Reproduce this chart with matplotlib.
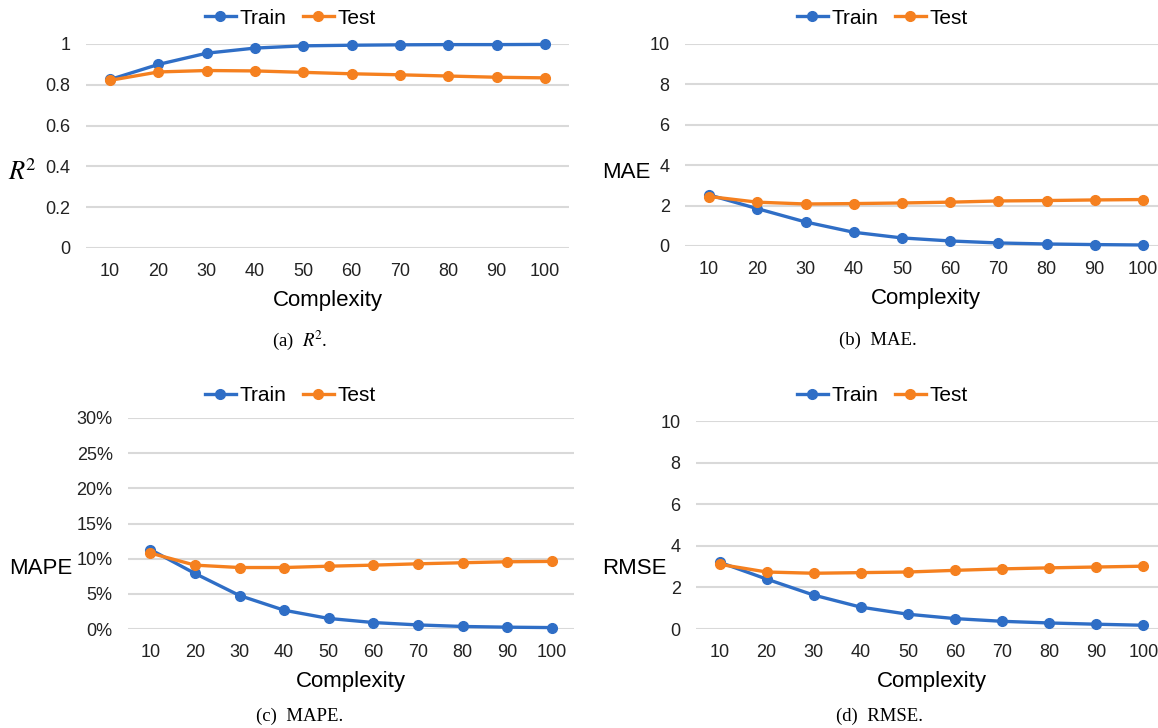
import matplotlib
matplotlib.use("Agg")
import matplotlib.pyplot as plt
from matplotlib.ticker import FuncFormatter
from matplotlib.lines import Line2D

plt.rcParams['font.family'] = ['Liberation Sans', 'DejaVu Sans']
plt.rcParams['mathtext.fontset'] = 'stix'

complexity = [10, 20, 30, 40, 50, 60, 70, 80, 90, 100]

r2_train = [0.826, 0.900, 0.955, 0.980, 0.991, 0.994, 0.996, 0.997, 0.997, 0.998]
r2_test = [0.822, 0.863, 0.870, 0.868, 0.861, 0.854, 0.849, 0.843, 0.837, 0.834]

mae_train = [2.53, 1.85, 1.19, 0.68, 0.40, 0.25, 0.15, 0.10, 0.07, 0.05]
mae_test = [2.45, 2.17, 2.08, 2.10, 2.13, 2.17, 2.23, 2.25, 2.28, 2.30]

mape_train = [11.3, 7.9, 4.76, 2.67, 1.5, 0.92, 0.58, 0.36, 0.26, 0.2]
mape_test = [10.8, 9.08, 8.74, 8.74, 8.93, 9.08, 9.27, 9.42, 9.56, 9.61]

rmse_train = [3.21, 2.40, 1.63, 1.05, 0.71, 0.50, 0.37, 0.29, 0.23, 0.18]
rmse_test = [3.11, 2.74, 2.68, 2.71, 2.74, 2.82, 2.89, 2.94, 2.98, 3.02]

BLUE = '#2f6ec6'
ORANGE = '#f5801f'
GRID = '#d9d9d9'

W, H = 1158, 728
fig = plt.figure(figsize=(W / 100, H / 100), dpi=100)


def px_axes(x0, x1, ytop, ybot):
    return fig.add_axes([x0 / W, (H - ybot) / H, (x1 - x0) / W, (ybot - ytop) / H])


def draw(ax, train, test, ylim, yticks, fmt=None):
    x = list(range(len(complexity)))
    for ys, c in ((train, BLUE), (test, ORANGE)):
        ax.plot(x, ys, color=c, lw=2.4, marker='o', ms=7, clip_on=False, zorder=3)
    ax.set_xlim(-0.5, len(complexity) - 0.5)
    ax.set_ylim(*ylim)
    ax.set_yticks(yticks)
    if fmt:
        ax.yaxis.set_major_formatter(FuncFormatter(fmt))
    ax.set_xticks(x)
    ax.set_xticklabels([str(c) for c in complexity])
    for s in ax.spines.values():
        s.set_visible(False)
    ax.grid(axis='y', color=GRID, lw=1.5)
    ax.set_axisbelow(True)
    ax.tick_params(axis='both', length=0, labelsize=13, colors='#222222')
    ax.tick_params(axis='y', pad=11)
    ax.tick_params(axis='x', pad=11)
    ax.set_xlabel('Complexity', fontsize=16, labelpad=7)


def legend(cx, cy):
    handles = [Line2D([], [], color=BLUE, lw=2.4, marker='o', ms=7),
               Line2D([], [], color=ORANGE, lw=2.4, marker='o', ms=7)]
    fig.legend(handles, ['Train', 'Test'], loc='center', bbox_to_anchor=(cx / W, 1 - cy / H),
               ncol=2, frameon=False, fontsize=15, handlelength=1.5, handletextpad=0.15,
               columnspacing=0.8, borderpad=0)


# (a) R^2
ax = px_axes(86, 569, 44, 248)
draw(ax, r2_train, r2_test, (0, 1), [0, 0.2, 0.4, 0.6, 0.8, 1.0],
     lambda v, p: '0' if v == 0 else ('1' if v == 1 else f'{v:.1f}'))
legend(290, 18)
fig.text(22 / W, 1 - 172 / H, r'$R^{\!2}$', fontsize=19, ha='center', va='center')
fig.text(300 / W, 1 - 340 / H, r'(a)  $R^{\!2}$.', fontsize=13.5, ha='center', va='center',
         family='Liberation Serif')

# (b) MAE
ax = px_axes(685, 1167, 44, 246)
draw(ax, mae_train, mae_test, (0, 10), [0, 2, 4, 6, 8, 10])
legend(882, 18)
fig.text(626 / W, 1 - 172 / H, 'MAE', fontsize=16, ha='center', va='center')
fig.text(878 / W, 1 - 340 / H, '(b)  MAE.', fontsize=13.5, ha='center', va='center',
         family='Liberation Serif')

# (c) MAPE
ax = px_axes(128, 574, 418, 629)
draw(ax, mape_train, mape_test, (0, 30), [0, 5, 10, 15, 20, 25, 30],
     lambda v, p: f'{v:.0f}%')
legend(290, 396)
fig.text(41 / W, 1 - 568 / H, 'MAPE', fontsize=16, ha='center', va='center')
fig.text(300 / W, 1 - 716 / H, '(c)  MAPE.', fontsize=13.5, ha='center', va='center',
         family='Liberation Serif')

# (d) RMSE
ax = px_axes(696, 1167, 421, 629)
draw(ax, rmse_train, rmse_test, (0, 10), [0, 2, 4, 6, 8, 10])
legend(882, 396)
fig.text(634 / W, 1 - 568 / H, 'RMSE', fontsize=16, ha='center', va='center')
fig.text(880 / W, 1 - 716 / H, '(d)  RMSE.', fontsize=13.5, ha='center', va='center',
         family='Liberation Serif')

fig.savefig('out.png', dpi=100)
